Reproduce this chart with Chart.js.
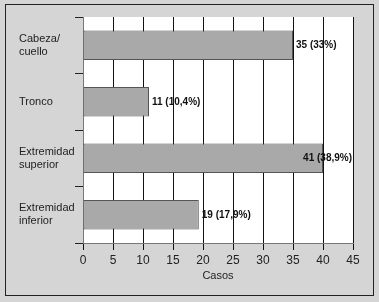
<!DOCTYPE html>
<html>
<head>
<meta charset="utf-8">
<script src="https://cdn.jsdelivr.net/npm/chart.js@4"></script>
<style>
  html, body { margin: 0; padding: 0; background: #d5d5d5; }
  #wrap { width: 379px; height: 302px; position: relative; }
</style>
</head>
<body>
<div id="wrap"><canvas id="grafico" width="379" height="302"></canvas></div>
<script>
// datos
const categorias = [['Cabeza/', 'cuello'], 'Tronco', ['Extremidad', 'superior'], ['Extremidad', 'inferior']]
const casos = [35, 11, 40, 19.3]   // largo de barra tal como se ve
const etiquetas = ['35 (33%)', '11 (10,4%)', '41 (38,9%)', '19 (17,9%)']
const ticksX = [0, 5, 10, 15, 20, 25, 30, 35, 40, 45]

const fondoGris = {
    id: 'fondoGris',
    beforeDraw(chart) {
        const { ctx, chartArea } = chart
        ctx.save()
        ctx.fillStyle = '#d5d5d5'
        ctx.fillRect(0, 0, chart.width, chart.height)
        ctx.fillStyle = '#ffffff'
        ctx.fillRect(chartArea.left, chartArea.top, chartArea.right - chartArea.left, chartArea.bottom - chartArea.top)
        ctx.restore()
    },
    afterDraw(chart) {
        const { ctx } = chart
        ctx.save()
        ctx.strokeStyle = '#222222'
        ctx.lineWidth = 1
        ctx.strokeRect(5.5, 4.5, 368, 291)
        ctx.restore()
    }
}

const etiquetasBarras = {
    id: 'etiquetasBarras',
    afterDatasetsDraw(chart) {
        const { ctx, chartArea } = chart
        const meta = chart.getDatasetMeta(0)
        ctx.save()
        ctx.font = 'bold 10px "Liberation Sans", Arial, sans-serif'
        ctx.fillStyle = '#111111'
        ctx.textAlign = 'left'
        ctx.textBaseline = 'middle'
        meta.data.forEach((bar, i) => {
            const ancho = ctx.measureText(etiquetas[i]).width
            const x = Math.min(bar.x + 3, chartArea.right - ancho - 1)
            ctx.fillText(etiquetas[i], x, bar.y)
        })
        ctx.restore()
    }
}

new Chart(document.getElementById('grafico'), {
    type: 'bar',
    data: {
        labels: categorias,
        datasets: [{
            data: casos,
            backgroundColor: '#a9a9a9',
            borderColor: '#555555',
            borderWidth: 1,
            borderSkipped: false,
            barPercentage: 0.52,
            categoryPercentage: 1
        }]
    },
    options: {
        indexAxis: 'y',
        responsive: false,
        animation: false,
        devicePixelRatio: 1,
        layout: {
            padding: { left: 19, right: 26, top: 17, bottom: 19 }
        },
        plugins: {
            legend: { display: false },
            tooltip: { enabled: false }
        },
        scales: {
            x: {
                type: 'linear',
                min: 0,
                max: 45,
                afterBuildTicks: scale => { scale.ticks = ticksX.map(v => ({ value: v })) },
                afterFit: scale => { scale.height = 40 },
                ticks: {
                    color: '#222222',
                    padding: 3,
                    font: { family: '"Liberation Sans", Arial, sans-serif', size: 12 }
                },
                grid: {
                    color: '#111111',
                    lineWidth: 1,
                    tickLength: 7,
                    drawTicks: true
                },
                border: { display: true, color: '#777777', width: 1 },
                title: {
                    display: true,
                    text: 'Casos',
                    color: '#222222',
                    padding: { top: 0, bottom: 0 },
                    font: { family: '"Liberation Sans", Arial, sans-serif', size: 11 }
                }
            },
            y: {
                afterFit: scale => { scale.width = 64 },
                ticks: {
                    crossAlign: 'far',
                    color: '#222222',
                    font: { family: '"Liberation Sans", Arial, sans-serif', size: 11, lineHeight: 1.15 }
                },
                grid: {
                    offset: true,
                    drawOnChartArea: false,
                    color: '#222222',
                    tickLength: 8
                },
                border: { display: true, color: '#777777', width: 1 }
            }
        }
    },
    plugins: [fondoGris, etiquetasBarras]
})
</script>
</body>
</html>
